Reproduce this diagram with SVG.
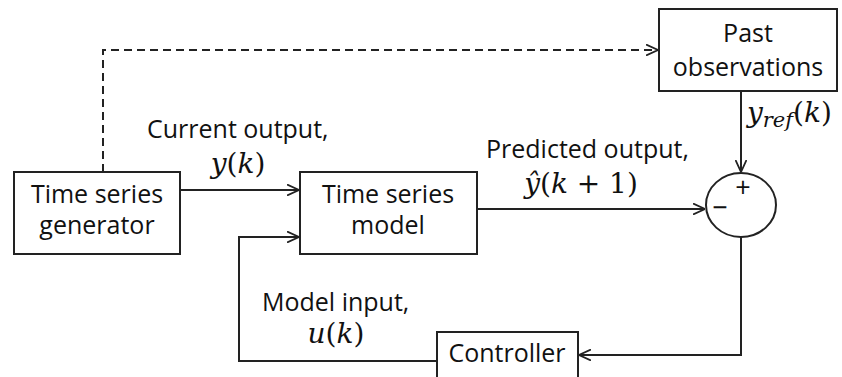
<svg xmlns="http://www.w3.org/2000/svg" width="842" height="377" viewBox="0 0 842 377">
<style>
.box{fill:#fff;stroke:#222;stroke-width:2}
.lbl{font-family:"Open Sans","Liberation Sans",sans-serif;font-size:25px;fill:#111}
.ctr{text-anchor:middle}
.math{font-family:"DejaVu Serif","Liberation Serif",serif;font-size:28px;fill:#111}
.it{font-style:italic}
.conn{fill:none;stroke:#222;stroke-width:2}
.dash{stroke-dasharray:8 5}
</style>
<defs>
<marker id="arr" markerUnits="userSpaceOnUse" viewBox="0 0 12 12" refX="12" refY="6" markerWidth="12" markerHeight="12" orient="auto">
<path d="M0,0.5 L12,6 L0,11.5" fill="none" stroke="#222" stroke-width="1.8"/>
</marker>
</defs>
<rect width="842" height="377" fill="#fff"/>
<g id="connectors">
<path class="conn dash" d="M103,172 V50 H658" marker-end="url(#arr)"/>
<path class="conn" d="M180,190 H299" marker-end="url(#arr)"/>
<path class="conn" d="M437,361 H239 V237 H299" marker-end="url(#arr)"/>
<path class="conn" d="M477,209 H705" marker-end="url(#arr)"/>
<path class="conn" d="M741,91 V172" marker-end="url(#arr)"/>
<path class="conn" d="M741,237 V355 H579" marker-end="url(#arr)"/>
</g>
<g id="generator">
<rect class="box" x="14" y="172" width="166" height="82"/>
<text class="lbl ctr" x="97" y="203">Time series</text>
<text class="lbl ctr" x="97" y="234">generator</text>
</g>
<g id="model">
<rect class="box" x="300" y="172" width="177" height="82"/>
<text class="lbl ctr" x="388" y="203">Time series</text>
<text class="lbl ctr" x="388" y="234">model</text>
</g>
<g id="past">
<rect class="box" x="659" y="9" width="178" height="82"/>
<text class="lbl ctr" x="748" y="42">Past</text>
<text class="lbl ctr" x="748" y="76">observations</text>
</g>
<g id="controller">
<rect class="box" x="437" y="332" width="141" height="60"/>
<text class="lbl ctr" x="507" y="362">Controller</text>
</g>
<g id="sum">
<ellipse class="box" cx="741" cy="205" rx="35" ry="32"/>
<text class="lbl ctr" x="743" y="197" style="font-size:27px">+</text>
<text class="lbl ctr" x="720" y="217" style="font-size:27px">−</text>
</g>
<g id="labels">
<text class="lbl" x="147" y="138">Current output,</text>
<text class="math ctr" x="238" y="173"><tspan class="it">y</tspan>(<tspan class="it">k</tspan>)</text>
<text class="lbl" x="486" y="158">Predicted output,</text>
<text class="math ctr" x="581" y="193"><tspan class="it">ŷ</tspan>(<tspan class="it">k</tspan> + 1)</text>
<text class="math" x="747" y="122"><tspan class="it">y</tspan><tspan class="it" style="font-size:21px" dy="5">ref</tspan><tspan dy="-5">(</tspan><tspan class="it">k</tspan>)</text>
<text class="lbl" x="262" y="311">Model input,</text>
<text class="math ctr" x="336" y="343"><tspan class="it">u</tspan>(<tspan class="it">k</tspan>)</text>
</g>
</svg>
